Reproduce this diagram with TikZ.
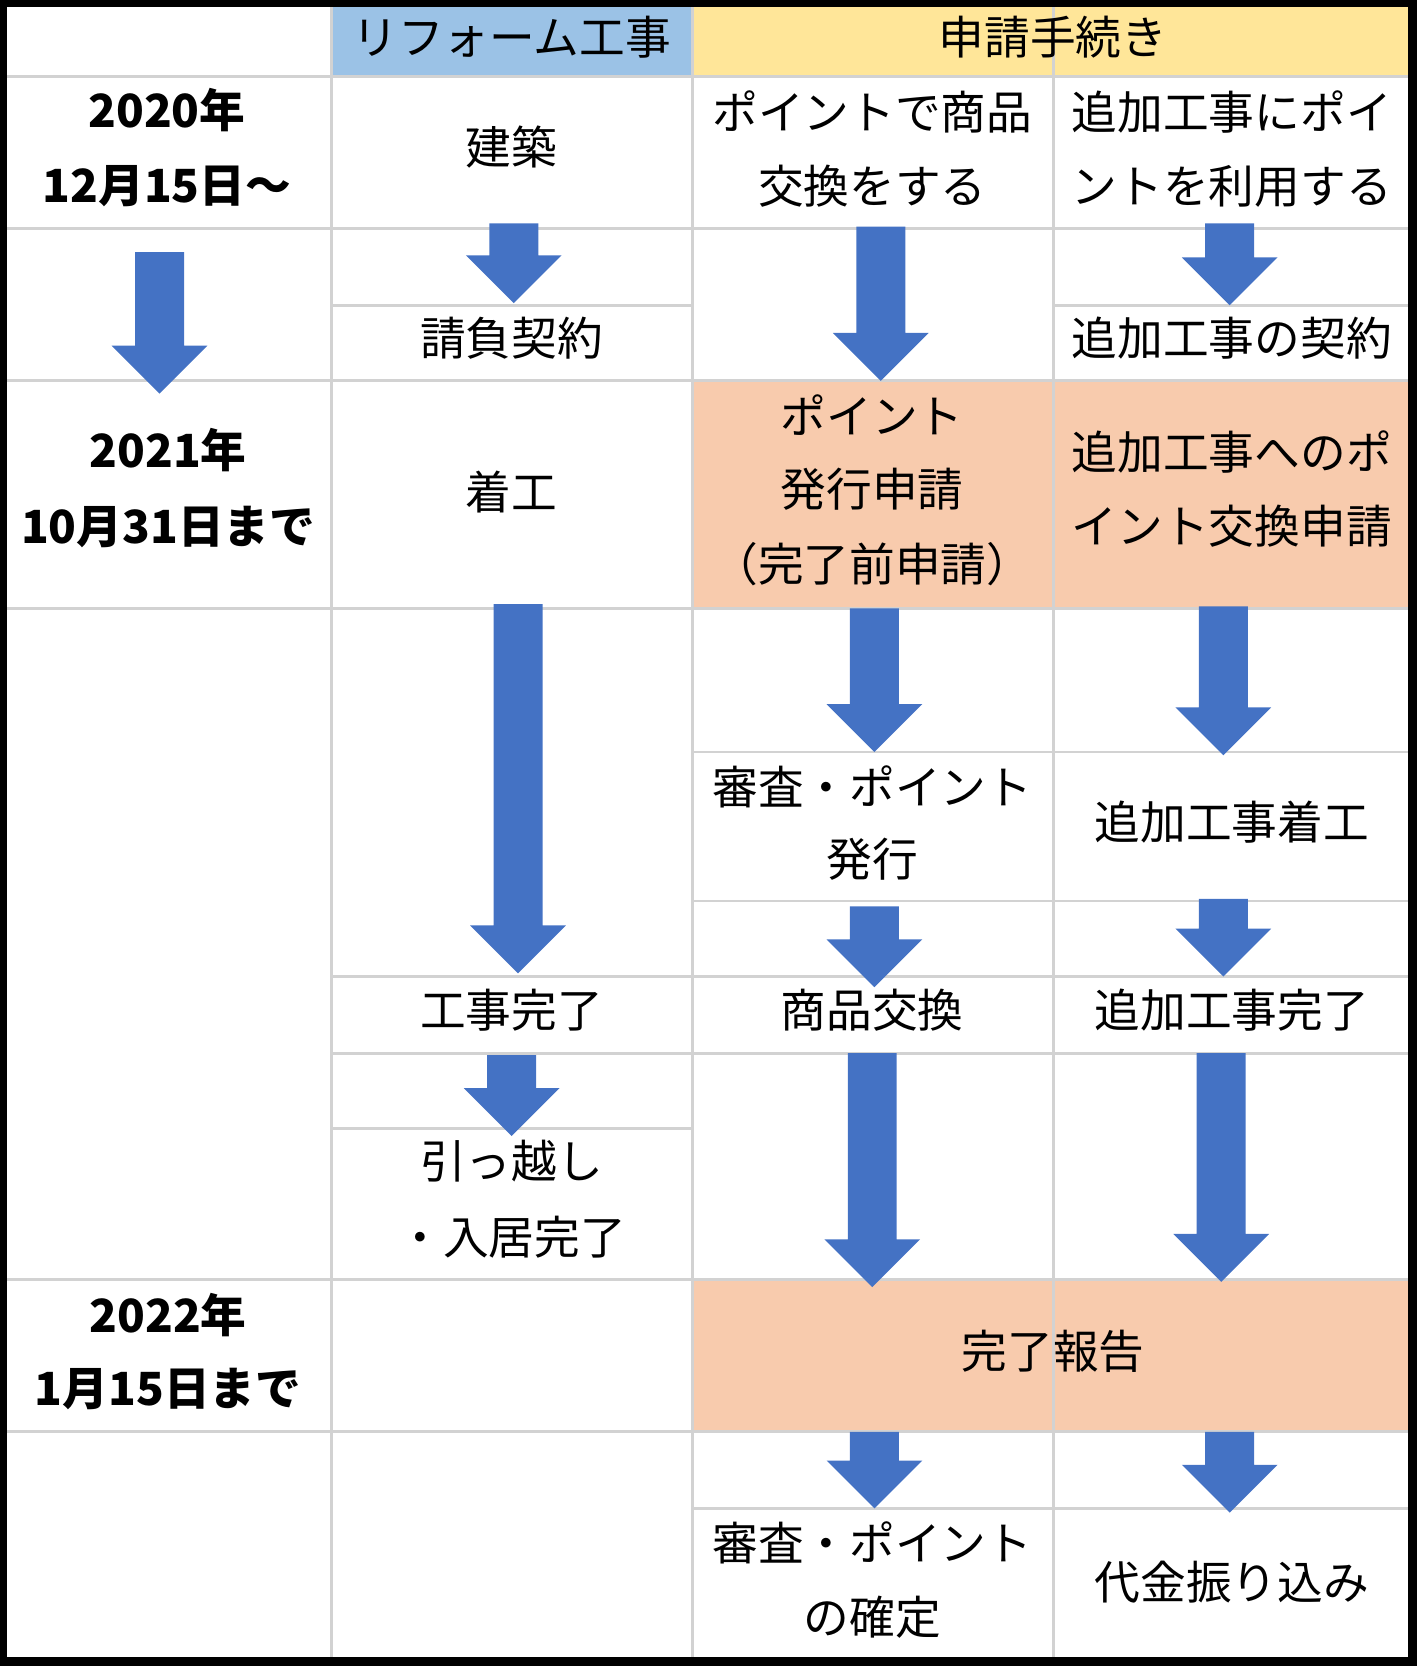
\documentclass[tikz,border=0pt]{standalone}
\usepackage{fontspec}
\setmainfont{Noto Sans CJK JP}
\definecolor{hdrblue}{RGB}{155,194,230}
\definecolor{hdryellow}{RGB}{255,230,153}
\definecolor{cellorange}{RGB}{248,203,173}
\definecolor{arrowblue}{RGB}{68,114,196}
\definecolor{gridgray}{RGB}{210,210,210}
\tikzset{
  celltext/.style = {font=\fontsize{13pt}{15pt}\selectfont, inner sep=0pt},
  datetext/.style = {font=\fontsize{13pt}{15pt}\selectfont\bfseries, inner sep=0pt},
  gridline/.style = {gridgray, line width=0.8pt}
}
% block arrow: x, top y, bottom y
\newcommand{\blockarrow}[3]{%
  \fill[arrowblue] (#1-23,#2) -- (#1+23,#2) -- (#1+23,#3-45) -- (#1+45,#3-45)
    -- (#1,#3) -- (#1-45,#3-45) -- (#1-23,#3-45) -- cycle;}
\begin{document}
\begin{tikzpicture}[x=0.010637cm, y=-0.010637cm]
\useasboundingbox (0,0) rectangle (1335,1569);

% fills
\fill[hdrblue] (312,0) rectangle (651,72);
\fill[hdryellow] (651,0) rectangle (1328,72);
\fill[cellorange] (651,358) rectangle (1328,572);
\fill[cellorange] (651,1203) rectangle (1328,1346);

% grid
\foreach \x in {312,651,990} \draw[gridline] (\x,0) -- (\x,1562);
\foreach \y in {72,215,358,572,1203,1346} \draw[gridline] (0,\y) -- (1328,\y);
\foreach \y in {287} \draw[gridline] (312,\y) -- (651,\y) (990,\y) -- (1328,\y);
\foreach \y in {707,847} \draw[gridline] (651,\y) -- (1328,\y);
\foreach \y in {918,990} \draw[gridline] (312,\y) -- (1328,\y);
\draw[gridline] (312,1061) -- (651,1061);
\draw[gridline] (651,1418) -- (1328,1418);
\draw[black, line width=2.5pt] (2,2) rectangle (1328,1562);

% dates
\node (d1a) [datetext] at (157,103) {2020年};
\node (d1b) [datetext] at (157,175) {12月15日～};
\node (d2a) [datetext] at (158,423) {2021年};
\node (d2b) [datetext] at (158,495) {10月31日まで};
\node (d3a) [datetext] at (158,1236) {2022年};
\node (d3b) [datetext] at (158,1306) {1月15日まで};

% headers
\node (hreform) [celltext] at (481,35) {リフォーム工事};
\node (happly)  [celltext] at (990,35) {申請手続き};

% reform column
\node (kenchiku) [celltext] at (481,138) {建築};
\node (ukeoi)    [celltext] at (481,318) {請負契約};
\node (chakko)   [celltext] at (481,463) {着工};
\node (kanryo)   [celltext] at (481,950) {工事完了};
\node (hikkoshi) [celltext] at (481,1092) {引っ越し};
\node (nyukyo)   [celltext] at (481,1163) {・入居完了};

% point exchange column
\node (pt1a)  [celltext] at (820,105) {ポイントで商品};
\node (pt1b)  [celltext] at (820,175) {交換をする};
\node (pt2a)  [celltext] at (820,390) {ポイント};
\node (pt2b)  [celltext] at (820,460) {発行申請};
\node (pt2c)  [celltext] at (820,530) {（完了前申請）};
\node (pt3a)  [celltext] at (820,740) {審査・ポイント};
\node (pt3b)  [celltext] at (820,808) {発行};
\node (pt4)   [celltext] at (820,950) {商品交換};
\node (pt5a)  [celltext] at (820,1450) {審査・ポイント};
\node (pt5b)  [celltext] at (820,1520) {の確定};

% additional work column
\node (ad1a) [celltext] at (1158,105) {追加工事にポイ};
\node (ad1b) [celltext] at (1158,175) {ントを利用する};
\node (ad2)  [celltext] at (1158,318) {追加工事の契約};
\node (ad3a) [celltext] at (1158,425) {追加工事へのポ};
\node (ad3b) [celltext] at (1158,495) {イント交換申請};
\node (ad4)  [celltext] at (1158,773) {追加工事着工};
\node (ad5)  [celltext] at (1158,950) {追加工事完了};
\node (ad6)  [celltext] at (1158,1487) {代金振り込み};

\node (report) [celltext] at (990,1270) {完了報告};

% arrows
\blockarrow{150}{237}{370}
\blockarrow{483}{210}{285}
\blockarrow{487}{568}{915}
\blockarrow{481}{992}{1068}
\blockarrow{828}{213}{358}
\blockarrow{822}{572}{707}
\blockarrow{822}{852}{928}
\blockarrow{820}{990}{1210}
\blockarrow{822}{1346}{1418}
\blockarrow{1156}{210}{287}
\blockarrow{1150}{570}{710}
\blockarrow{1150}{845}{918}
\blockarrow{1148}{990}{1205}
\blockarrow{1156}{1346}{1422}
\end{tikzpicture}
\end{document}
